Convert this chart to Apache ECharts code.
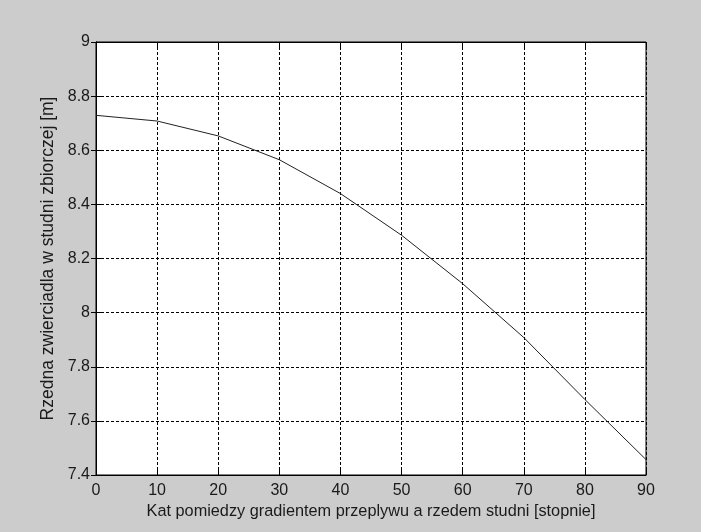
<!DOCTYPE html>
<html>
<head>
<meta charset="utf-8">
<script src="https://cdn.jsdelivr.net/npm/echarts@6/dist/echarts.min.js"></script>
<style>
html,body{margin:0;padding:0;background:#cccccc;}
#c{width:701px;height:532px;}
</style>
</head>
<body>
<div id="c"></div>
<script>
const angles = [0, 10, 20, 30, 40, 50, 60, 70, 80, 90];
const levels = [8.729, 8.708, 8.653, 8.565, 8.440, 8.286, 8.107, 7.908, 7.679, 7.457];
const xTitle = 'Kat pomiedzy gradientem przeplywu a rzedem studni [stopnie]';
const yTitle = 'Rzedna zwierciadla w studni zbiorczej [m]';

const font = 'Liberation Sans, Arial, sans-serif';
const txt = '#1a1a1a';
const chart = echarts.init(document.getElementById('c'), null, {renderer: 'canvas'});
const gridLine = {show: true, lineStyle: {color: '#000', width: 1, type: [3, 2]}};
const tick = {show: true, inside: true, length: 5, lineStyle: {color: '#000'}};
chart.setOption({
  backgroundColor: '#cccccc',
  animation: false,
  grid: {left: 96, right: 55, top: 42, bottom: 57, show: true, backgroundColor: '#ffffff', borderColor: '#000', borderWidth: 1},
  xAxis: [{
    type: 'value', min: 0, max: 90, interval: 10,
    name: xTitle, nameLocation: 'middle', nameGap: 28,
    nameTextStyle: {fontFamily: font, fontSize: 16.3, color: txt},
    axisLine: {show: true, lineStyle: {color: '#000'}},
    axisTick: tick,
    axisLabel: {fontFamily: font, fontSize: 16, color: txt, margin: 8},
    splitLine: gridLine
  }, {
    type: 'value', position: 'top', min: 0, max: 90, interval: 10,
    axisLine: {show: true, lineStyle: {color: '#000'}},
    axisTick: tick, axisLabel: {show: false}, splitLine: {show: false}
  }],
  yAxis: [{
    type: 'value', min: 7.4, max: 9, interval: 0.2,
    name: yTitle, nameLocation: 'middle', nameGap: 31,
    nameTextStyle: {fontFamily: font, fontSize: 17.5, color: txt},
    axisLine: {show: true, lineStyle: {color: '#000'}},
    axisTick: tick,
    axisLabel: {fontFamily: font, fontSize: 16, color: txt, margin: 6,
      formatter: v => String(Math.round(v * 10) / 10)},
    splitLine: gridLine
  }, {
    type: 'value', position: 'right', min: 7.4, max: 9, interval: 0.2,
    axisLine: {show: true, lineStyle: {color: '#000'}},
    axisTick: tick, axisLabel: {show: false}, splitLine: {show: false}
  }],
  series: [{
    type: 'line',
    data: angles.map((a, i) => [a, levels[i]]),
    showSymbol: false, smooth: false,
    lineStyle: {color: '#222', width: 1},
    xAxisIndex: 0, yAxisIndex: 0
  }]
});
</script>
</body>
</html>
